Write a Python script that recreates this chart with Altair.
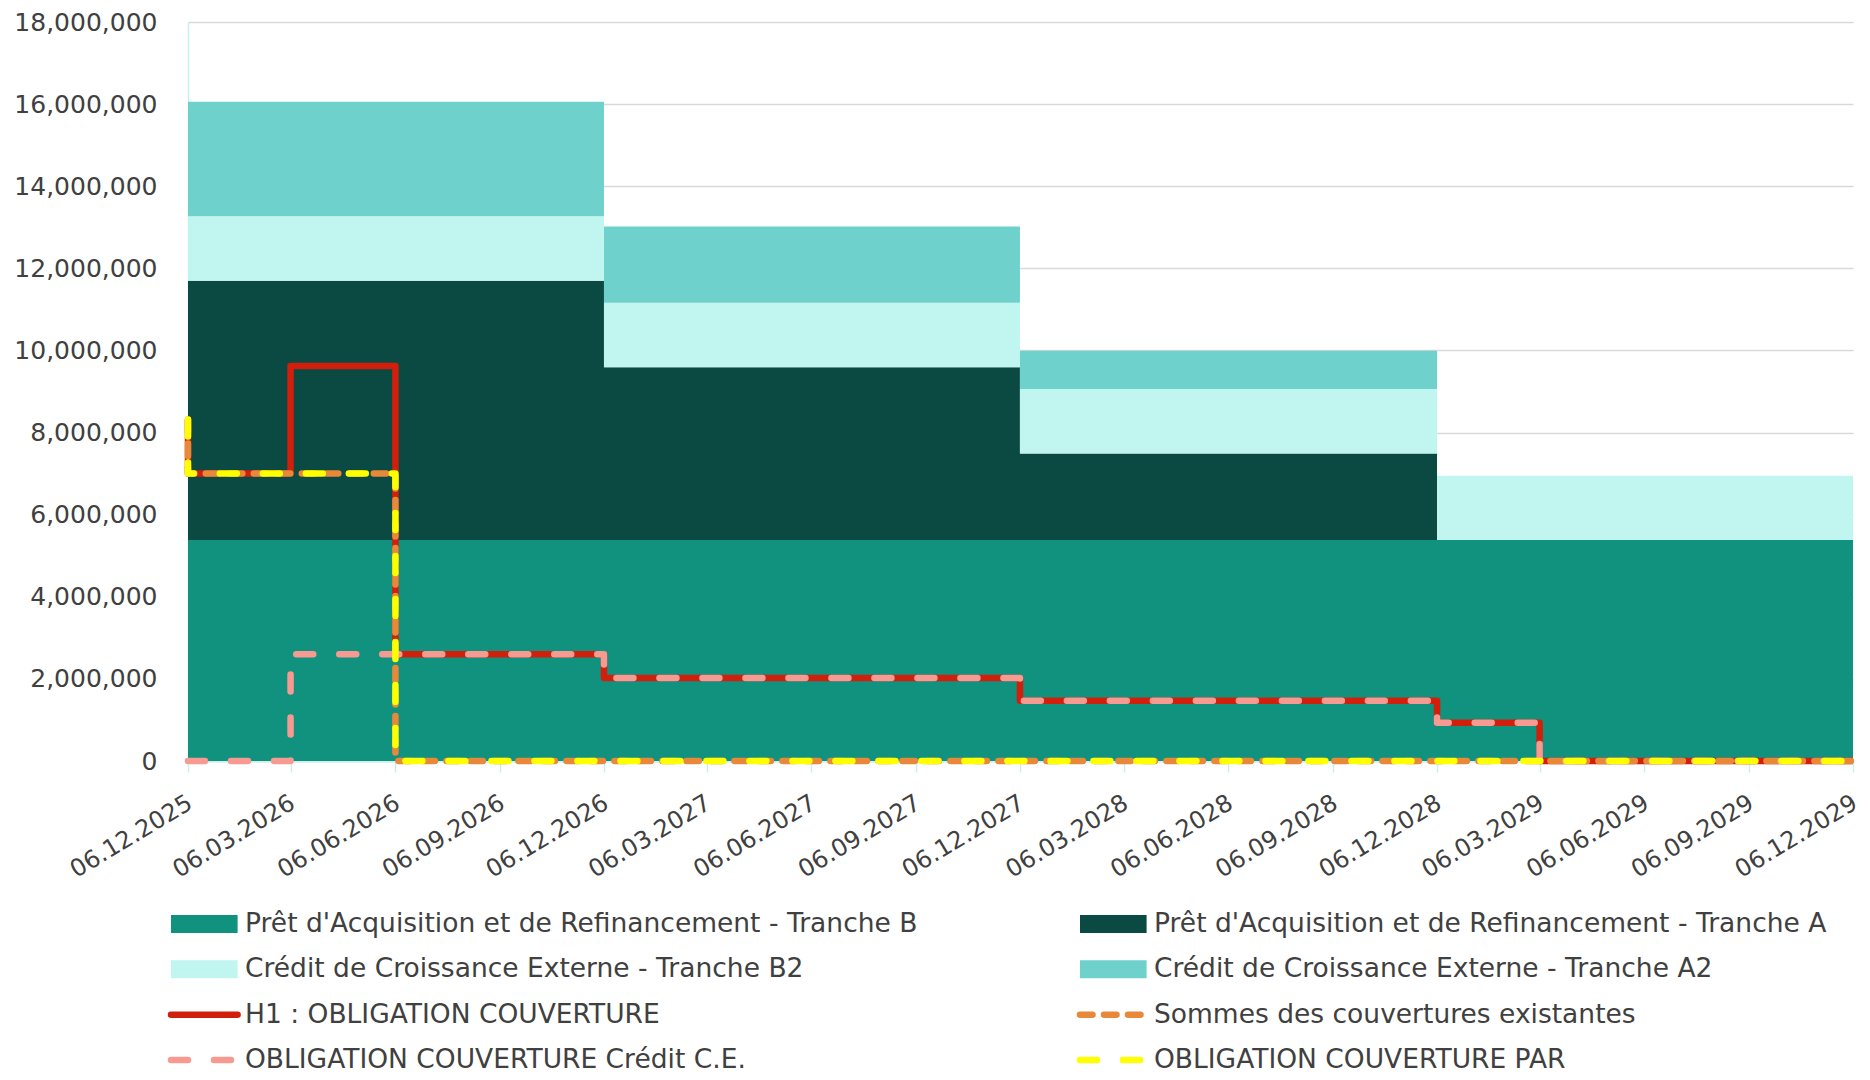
import altair as alt
import pandas as pd

# ---------------- data ----------------
SERIES = [
    "Prêt d'Acquisition et de Refinancement - Tranche B",
    "Prêt d'Acquisition et de Refinancement - Tranche A",
    "Crédit de Croissance Externe - Tranche B2",
    "Crédit de Croissance Externe - Tranche A2",
    "H1 : OBLIGATION COUVERTURE",
    "Sommes des couvertures existantes",
    "OBLIGATION COUVERTURE Crédit C.E.",
    "OBLIGATION COUVERTURE PAR",
]
COLORS = ["#10927f", "#0a4a42", "#c0f6ef", "#6fd1cb",
          "#d21f0c", "#e8893a", "#f69a92", "#ffff00"]

AREA_DATES = ["2025-12-06", "2026-12-06", "2027-12-06", "2028-12-06", "2029-12-06"]
TRANCHE_B = [5380000, 5380000, 5380000, 5380000, 5380000]
TRANCHE_A = [6320000, 4210000, 2110000, 0, 0]
TRANCHE_B2 = [1570000, 1570000, 1570000, 1570000, 1570000]
TRANCHE_A2 = [2790000, 1860000, 930000, 0, 0]

H1_DATES = ["2025-12-06", "2025-12-06", "2026-03-06", "2026-06-06", "2026-12-06",
            "2027-12-06", "2028-12-06", "2029-03-06", "2029-12-06"]
H1_VALUES = [8320000, 7000000, 9620000, 2600000, 2020000, 1470000, 930000, 0, 0]

SUM_DATES = ["2025-12-06", "2025-12-06", "2026-06-06", "2029-12-06"]
SUM_VALUES = [8320000, 7000000, 0, 0]

CE_DATES = ["2025-12-06", "2026-03-06", "2026-12-06", "2027-12-06",
            "2028-12-06", "2029-03-06", "2029-12-06"]
CE_VALUES = [0, 2600000, 2020000, 1470000, 930000, 0, 0]

PAR_DATES = ["2025-12-06", "2025-12-06", "2026-06-06", "2029-12-06"]
PAR_VALUES = [8320000, 7000000, 0, 0]

TICK_DATES = [(2025, 12), (2026, 3), (2026, 6), (2026, 9), (2026, 12),
              (2027, 3), (2027, 6), (2027, 9), (2027, 12),
              (2028, 3), (2028, 6), (2028, 9), (2028, 12),
              (2029, 3), (2029, 6), (2029, 9), (2029, 12)]
Y_TICKS = [0, 2000000, 4000000, 6000000, 8000000, 10000000,
           12000000, 14000000, 16000000, 18000000]

LEGEND_COL = [0, 1, 0, 1, 0, 1, 0, 1]
LEGEND_ROW = [0, 0, 1, 1, 2, 2, 3, 3]
LEGEND_KIND = ["rect", "rect", "rect", "rect", "line", "line", "line", "line"]

# ---------------- tables ----------------
area_rows = []
for k, vals in enumerate([TRANCHE_B, TRANCHE_A, TRANCHE_B2, TRANCHE_A2]):
    for d, v in zip(AREA_DATES, vals):
        area_rows.append({"date": d, "value": v, "series": SERIES[k], "ord": k})
area_df = pd.DataFrame(area_rows)


def line_df(dates, vals, name):
    return pd.DataFrame({"date": dates, "value": vals, "series": name,
                         "idx": list(range(len(dates)))})


h1_df = line_df(H1_DATES, H1_VALUES, SERIES[4])
sum_df = line_df(SUM_DATES, SUM_VALUES, SERIES[5])
ce_df = line_df(CE_DATES, CE_VALUES, SERIES[6])
par_df = line_df(PAR_DATES, PAR_VALUES, SERIES[7])

legend_df = pd.DataFrame({"series": SERIES, "col": LEGEND_COL,
                          "row": LEGEND_ROW, "kind": LEGEND_KIND})

# ---------------- styles ----------------
FONT = "DejaVu Sans"
FS = 25
XFS = 24
LFS = 26.5
TXT = "#404040"
CYAN = "#c5f2ee"

color_scale = alt.Scale(domain=SERIES, range=COLORS)
dash_scale = alt.Scale(domain=SERIES[4:],
                       range=[[1, 0], [12.5, 11.5], [17, 26], [17, 26]])

x_scale = alt.Scale(type="utc", nice=False,
                    domain=[alt.DateTime(year=2025, month=12, date=6, utc=True),
                            alt.DateTime(year=2029, month=12, date=6, utc=True)])
x_axis = alt.Axis(
    values=[alt.DateTime(year=y, month=m, date=6, utc=True) for y, m in TICK_DATES],
    format="%d.%m.%Y", labelAngle=-31, labelAlign="right", labelBaseline="middle",
    labelPadding=29, labelOffset=2, tickSize=11, tickColor=CYAN, tickWidth=1.5,
    domainColor=CYAN, domainWidth=2, grid=False, labelOverlap=False,
    labelFlush=False, labelFont=FONT, labelFontSize=XFS, labelColor=TXT, title=None)

y_scale = alt.Scale(domain=[0, 18000000], nice=False)
y_axis = alt.Axis(values=Y_TICKS, format=",.0f", labelFont=FONT, labelFontSize=FS,
                  labelColor=TXT, labelPadding=31, ticks=False, domain=True,
                  domainColor=CYAN, domainWidth=1.5, grid=True,
                  gridColor="#d9d9d9", gridWidth=1.5, title=None)


def X():
    return alt.X("date:T", scale=x_scale, axis=x_axis, title=None)


areas = alt.Chart(area_df).mark_area(interpolate="step-after", opacity=1).encode(
    x=X(),
    y=alt.Y("value:Q", stack="zero", scale=y_scale, axis=y_axis, title=None),
    color=alt.Color("series:N", scale=color_scale, legend=None),
    order=alt.Order("ord:Q", sort="ascending"),
)


def line_layer(df, cap):
    return alt.Chart(df).mark_line(interpolate="step-after", strokeWidth=6.5,
                                   strokeCap=cap, strokeJoin="round").encode(
        x=X(),
        y=alt.Y("value:Q", stack=None, scale=y_scale, axis=y_axis, title=None),
        color=alt.Color("series:N", scale=color_scale, legend=None),
        strokeDash=alt.StrokeDash("series:N", scale=dash_scale, legend=None),
        order=alt.Order("idx:Q"),
    )


main = alt.layer(
    areas,
    line_layer(h1_df, "butt"),
    line_layer(sum_df, "round"),
    line_layer(ce_df, "round"),
    line_layer(par_df, "round"),
).properties(width=1665, height=739)

# ---------------- legend ----------------
lx = alt.X("col:Q", scale=alt.Scale(domain=[0, 1], range=[-17, 892]), axis=None)
ly = alt.Y("row:Q", scale=alt.Scale(domain=[0, 3], range=[31, 167]), axis=None)
SYM = 4436  # symbol size -> 66.6 px wide

leg_rect = alt.Chart(legend_df).transform_filter(alt.datum.kind == "rect").mark_point(
    shape="M0,-0.27H2V0.27H0Z", filled=True, size=SYM, opacity=1, strokeWidth=0
).encode(x=lx, y=ly, color=alt.Color("series:N", scale=color_scale, legend=None))

leg_line = alt.Chart(legend_df).transform_filter(alt.datum.kind == "line").mark_point(
    shape="M0,0H2", filled=False, size=SYM, opacity=1, strokeWidth=6.5, strokeCap="round"
).encode(x=lx, y=ly,
         color=alt.Color("series:N", scale=color_scale, legend=None),
         strokeDash=alt.StrokeDash("series:N", scale=dash_scale, legend=None))

leg_text = alt.Chart(legend_df).mark_text(
    align="left", baseline="middle", dx=74, font=FONT, fontSize=LFS, color=TXT
).encode(x=lx, y=ly, text="series:N")

legend = alt.layer(leg_rect, leg_line, leg_text).properties(width=1665, height=160)

chart = alt.vconcat(main, legend, spacing=10).properties(
    padding={"left": 5, "top": 2, "right": 0, "bottom": 0}
).configure_view(stroke=None)

chart.save("out.html", embed_options={"renderer": "svg", "actions": False})
